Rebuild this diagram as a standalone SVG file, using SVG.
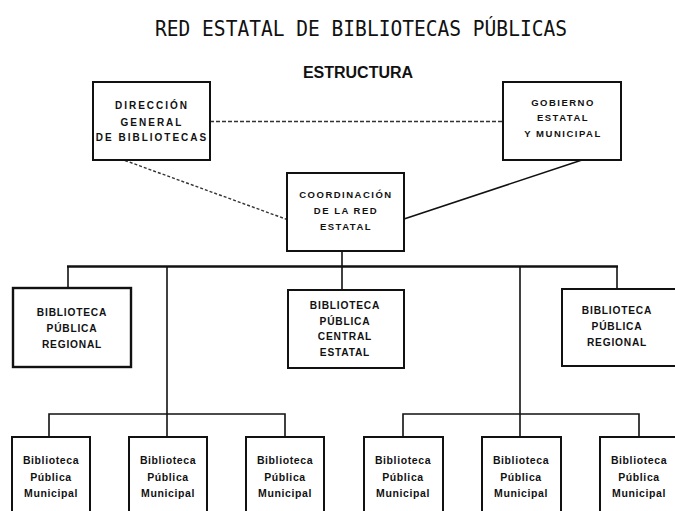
<svg xmlns="http://www.w3.org/2000/svg" width="675" height="511" viewBox="0 0 675 511">
<style>
.box{fill:#fff;stroke:#111;stroke-width:2}
.t{font-family:"Liberation Sans",Arial,sans-serif;font-weight:bold;fill:#111;text-anchor:middle}
.s{font-size:10px;letter-spacing:2px}
.m{font-size:9.5px;letter-spacing:1.5px}
.r{font-size:10.2px;letter-spacing:0.8px}
.u{font-size:10.5px;letter-spacing:0.6px}
.ln{fill:none;stroke:#111;stroke-width:1.6}
.bus{fill:none;stroke:#111;stroke-width:2.4}
.dash{fill:none;stroke:#333;stroke-width:1.3;stroke-dasharray:4 2}
.dot{fill:none;stroke:#333;stroke-width:1.4;stroke-dasharray:3 2}
</style>
<rect width="675" height="511" fill="#fff"/>
<text x="155" y="36" textLength="412" lengthAdjust="spacingAndGlyphs" font-family="DejaVu Sans Mono,monospace" font-size="22" fill="#111">RED ESTATAL DE BIBLIOTECAS PÚBLICAS</text>
<text x="358" y="77.5" font-family="Liberation Sans,Arial,sans-serif" font-weight="bold" font-size="16" fill="#111" text-anchor="middle">ESTRUCTURA</text>
<g id="connectors">
<line class="dash" x1="210" y1="121.5" x2="503" y2="121.5"/>
<line class="dot" x1="125" y1="160.5" x2="287" y2="219.5"/>
<line class="ln" x1="582" y1="160" x2="404" y2="219"/>
<line class="ln" x1="342" y1="251" x2="342" y2="290"/>
<line class="bus" x1="67" y1="266.5" x2="618" y2="266.5"/>
<line class="ln" x1="68" y1="266.5" x2="68" y2="288"/>
<line class="ln" x1="617" y1="266.5" x2="617" y2="289"/>
<line class="ln" x1="167" y1="266.5" x2="167" y2="437"/>
<line class="ln" x1="520" y1="266.5" x2="520" y2="437"/>
<polyline class="ln" points="49,437 49,414 285,414 285,437"/>
<polyline class="ln" points="403,437 403,414 639,414 639,437"/>
</g>
<g id="direccion">
<rect class="box" x="93" y="82" width="117" height="78"/>
<text class="t s" x="152" y="109">DIRECCIÓN</text>
<text class="t s" x="152" y="126">GENERAL</text>
<text class="t s" x="152" y="141">DE BIBLIOTECAS</text>
</g>
<g id="gobierno">
<rect class="box" x="503" y="82" width="118" height="78"/>
<text class="t m" x="563" y="106">GOBIERNO</text>
<text class="t m" x="563" y="121">ESTATAL</text>
<text class="t m" x="563" y="136.5">Y MUNICIPAL</text>
</g>
<g id="coordinacion">
<rect class="box" x="287" y="173" width="117" height="78"/>
<text class="t m" x="346" y="197.5">COORDINACIÓN</text>
<text class="t m" x="346" y="213.5">DE LA RED</text>
<text class="t m" x="346" y="230">ESTATAL</text>
</g>
<g id="regional-izq">
<rect class="box" x="13" y="288" width="118" height="79" style="stroke-width:2.4"/>
<text class="t r" x="72" y="316">BIBLIOTECA</text>
<text class="t r" x="72" y="332">PÚBLICA</text>
<text class="t r" x="72" y="348">REGIONAL</text>
</g>
<g id="central">
<rect class="box" x="288" y="290" width="116" height="78"/>
<text class="t r" x="345" y="309">BIBLIOTECA</text>
<text class="t r" x="345" y="324.5">PÚBLICA</text>
<text class="t r" x="345" y="340">CENTRAL</text>
<text class="t r" x="345" y="356">ESTATAL</text>
</g>
<g id="regional-der">
<rect class="box" x="562" y="289" width="120" height="77"/>
<text class="t r" x="617" y="314">BIBLIOTECA</text>
<text class="t r" x="617" y="329.5">PÚBLICA</text>
<text class="t r" x="617" y="345.5">REGIONAL</text>
</g>
<g id="municipal-1">
<rect class="box" x="12" y="437" width="78" height="90"/>
<text class="t u" x="51" y="464">Biblioteca</text>
<text class="t u" x="51" y="480.5">Pública</text>
<text class="t u" x="51" y="496.5">Municipal</text>
</g>
<g id="municipal-2">
<rect class="box" x="129" y="437" width="78" height="90"/>
<text class="t u" x="168" y="464">Biblioteca</text>
<text class="t u" x="168" y="480.5">Pública</text>
<text class="t u" x="168" y="496.5">Municipal</text>
</g>
<g id="municipal-3">
<rect class="box" x="246" y="437" width="78" height="90"/>
<text class="t u" x="285" y="464">Biblioteca</text>
<text class="t u" x="285" y="480.5">Pública</text>
<text class="t u" x="285" y="496.5">Municipal</text>
</g>
<g id="municipal-4">
<rect class="box" x="364" y="437" width="79" height="90"/>
<text class="t u" x="403" y="464">Biblioteca</text>
<text class="t u" x="403" y="480.5">Pública</text>
<text class="t u" x="403" y="496.5">Municipal</text>
</g>
<g id="municipal-5">
<rect class="box" x="482" y="437" width="79" height="90"/>
<text class="t u" x="521" y="464">Biblioteca</text>
<text class="t u" x="521" y="480.5">Pública</text>
<text class="t u" x="521" y="496.5">Municipal</text>
</g>
<g id="municipal-6">
<rect class="box" x="600" y="437" width="90" height="90"/>
<text class="t u" x="639" y="464">Biblioteca</text>
<text class="t u" x="639" y="480.5">Pública</text>
<text class="t u" x="639" y="496.5">Municipal</text>
</g>
</svg>
